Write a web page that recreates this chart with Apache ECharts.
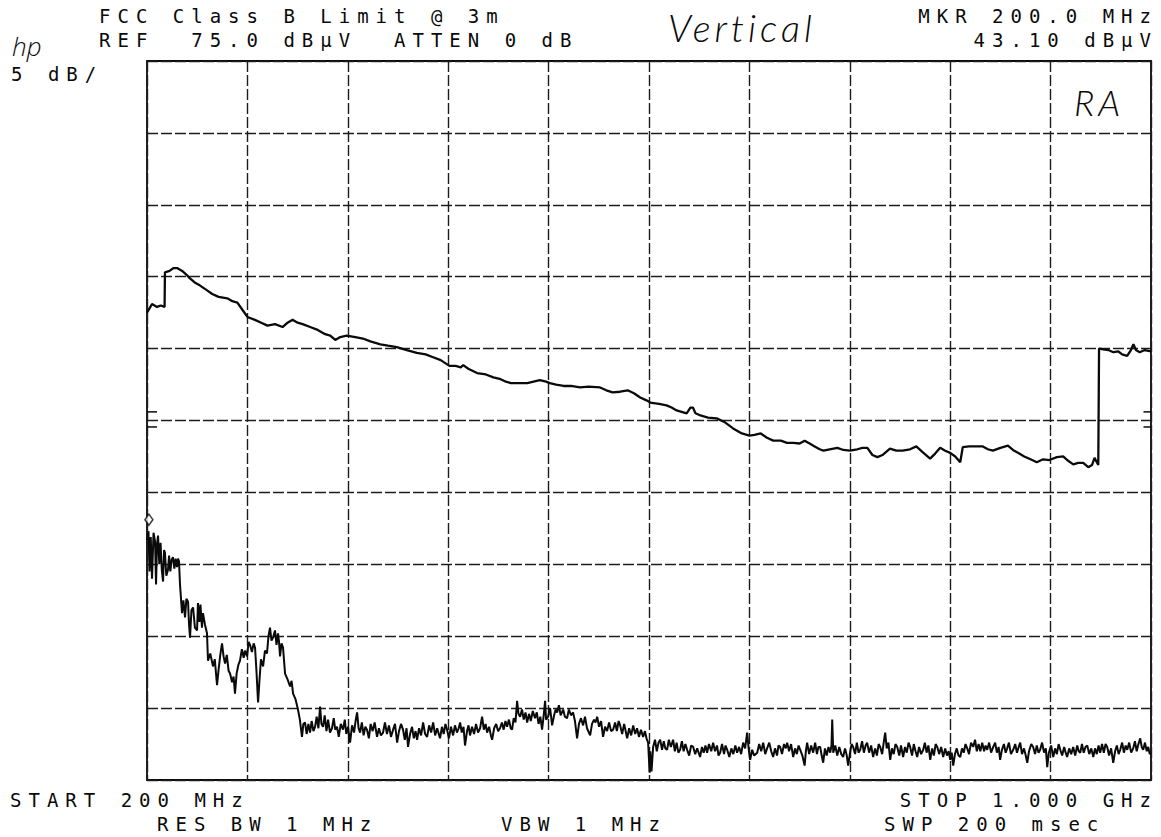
<!DOCTYPE html>
<html>
<head>
<meta charset="utf-8">
<title>FCC Class B Limit @ 3m</title>
<script src="https://cdn.jsdelivr.net/npm/echarts@6.0.0/dist/echarts.min.js"></script>
<style>
  html, body { margin: 0; padding: 0; background: #fff; }
  #chart { width: 1161px; height: 837px; }
  /* plotter lettering is wide spaced */
  #chart text[style*="DejaVu Sans Mono"] { letter-spacing: 7px; white-space: pre; }
  /* pen notes */
  #chart text[style*="Lato"] { letter-spacing: 4px; }
</style>
</head>
<body>
<div id="chart"></div>
<script>
// sweep: 200 MHz .. 1 GHz, 80 MHz/div ; REF 75 dBuV, 5 dB/div
var freqTicks = [200, 280, 360, 440, 520, 600, 680, 760, 840, 920, 1000];
var levelTicks = [25, 30, 35, 40, 45, 50, 55, 60, 65, 70, 75];

// upper trace [MHz, dBuV]
var upperTrace = [
    [200,57.5],[202,57.8],[204,58.1],[206,58.0],[208,57.9],[211,58.0],[214,57.9],[214.3,60.3],
    [218,60.4],[221,60.6],[224,60.6],[228,60.4],[232,60.1],[234,59.9],[238,59.6],[242,59.4],
    [247,59.1],[252,58.8],[257,58.6],[264,58.5],[268,58.3],[272,58.2],[276,57.7],[280,57.2],
    [286,57.0],[291,56.8],[296,56.6],[302,56.7],[308,56.5],[312,56.8],[316,57.0],[320,56.8],
    [324,56.7],[330,56.5],[336,56.3],[342,56.0],[346,55.9],[350,55.6],[354,55.8],[359,55.9],
    [366,55.8],[372,55.7],[378,55.5],[386,55.3],[392,55.2],[399,55.1],[407,54.9],[415,54.7],
    [422,54.6],[428,54.4],[434,54.2],[441,53.8],[446,53.8],[450,53.7],[452,53.85],[456,53.6],
    [463,53.3],[470,53.2],[476,53.0],[481,52.9],[486,52.7],[490,52.6],[496,52.6],[503,52.6],
    [508,52.7],[513,52.8],[518,52.7],[521,52.6],[526,52.5],[532,52.4],[538,52.4],[545,52.3],
    [552,52.35],[561,52.3],[566,52.1],[571,51.95],[577,52.0],[583,52.1],[588,51.9],[593,51.6],
    [598,51.4],[601,51.25],[608,51.15],[614,51.05],[618,50.9],[622,50.7],[626,50.6],[630,50.5],
    [633,50.9],[635,50.9],[637,50.5],[641,50.35],[647,50.2],[654,50.15],[660,49.9],[667,49.45],
    [674,49.1],[680,48.95],[684,49.0],[689,49.1],[694,48.8],[699,48.6],[705,48.6],[710,48.45],
    [715,48.45],[720,48.4],[724,48.6],[728,48.4],[732,48.2],[736,48.0],[739,47.9],[744,48.0],
    [750,48.1],[755,47.95],[760,47.9],[766,48.0],[770,48.1],[774,48.1],[778,47.6],[782,47.45],
    [786,47.6],[792,48.05],[797,47.9],[802,47.9],[808,48.0],[813,48.2],[818,47.8],[824,47.35],
    [828,47.7],[832,48.1],[836,47.9],[840,47.75],[844,47.5],[848,47.1],[850,48.15],[855,48.2],
    [861,48.2],[866,48.2],[870,48.0],[874,47.9],[880,48.1],[886,48.25],[890,47.95],[894,47.75],
    [899,47.5],[904,47.3],[909,47.1],[914,47.3],[919,47.25],[925,47.45],[930,47.5],[934,47.2],
    [938,46.95],[942,47.05],[946,47.05],[950,46.75],[953,46.9],[955,47.4],[958,46.9],[958.6,55.0],
    [962,54.95],[966,54.9],[970,54.75],[974,54.8],[977,54.6],[981,54.5],[984,54.9],[986,55.3],
    [988,54.9],[991,54.75],[995,54.9],[1000,54.8]
];

// lower (noise) trace [MHz, dBuV]
var lowerTrace = [
    // 200-250: strong emissions
    [200,41.7],[201.2,42.3],[202.0,39.5],[203.0,41.9],[204.0,39.0],[205.2,42.2],[206.4,41.6],[207.2,38.6],
    [208.0,41.4],[208.8,42.0],[209.8,40.0],[210.8,41.5],[211.8,39.6],[212.8,38.8],[213.6,41.0],[214.3,40.8],
    [215.4,39.2],[216.7,39.6],[217.6,40.6],[218.6,39.5],[219.6,40.3],[220.7,40.5],[221.8,39.7],[222.8,40.4],
    [223.9,39.8],[224.7,40.4],[225.5,40.2],[226.3,38.6],[227.1,37.6],[227.9,36.6],[229.0,37.5],[230.3,36.3],
    [231.4,37.6],[232.7,37.4],[233.5,35.8],[234.3,34.9],[235.4,36.8],[236.7,37.0],[238.2,35.6],[239.9,35.4],
    [240.6,37.3],[241.8,36.0],[242.6,37.2],[243.8,35.6],[244.6,36.6],[246.2,35.8],[247.8,35.2],[248.6,33.3],
    // 250-325
    [250.4,33.8],[252.6,32.9],[254.0,33.4],[255.8,31.6],[257.2,32.8],[258.4,33.7],[259.8,34.5],[261.0,33.6],
    [262.2,33.1],[263.6,33.7],[265.0,32.6],[266.2,32.4],[267.8,31.8],[269.0,32.2],[270.1,31.0],[271.4,32.4],
    [272.8,33.0],[274.1,33.3],[275.6,34.1],[277.0,33.5],[278.1,34.0],[279.7,33.6],[281.0,34.6],[282.1,34.4],
    [283.6,33.9],[285.0,34.5],[286.1,34.2],[287.2,32.6],[288.5,30.4],[289.6,31.9],[290.8,33.4],[292.5,32.9],
    [294.0,34.0],[295.6,33.8],[296.8,35.0],[298.0,35.6],[299.2,34.7],[300.4,34.9],[302.0,35.4],[303.2,34.4],
    [304.4,35.2],[305.2,34.6],[306.0,33.6],[307.2,34.5],[308.4,34.2],[309.2,33.3],[310.0,32.4],[312.0,32.0],
    [314.0,31.5],[315.2,31.9],[316.4,31.0],[318.4,30.6],[320.3,29.9],[321.8,29.2],[323.5,28.0],
    // 325-600 noise floor
    [324.6,28.9],[325.9,29.0],[327.2,28.2],[328.6,28.9],[329.9,28.3],[331.2,29.1],[332.6,28.4],[333.9,28.7],
    [335.2,29.4],[336.6,28.6],[337.9,30.1],[339.0,28.9],[340.3,28.7],[341.6,29.5],[343.0,28.4],[344.3,29.2],
    [345.8,28.3],[347.4,28.6],[348.8,29.3],[350.0,28.5],[351.4,28.7],[352.8,28.0],[354.4,28.9],[356.2,28.5],
    [357.6,29.2],[358.8,28.2],[360.2,28.7],[361.8,27.6],[363.4,28.8],[365.0,28.3],[366.2,29.1],[367.4,29.7],
    [368.6,28.6],[369.8,28.3],[371.2,29.0],[372.6,28.1],[374.0,28.7],[375.3,28.5],[376.8,27.9],[378.2,28.9],
    [379.8,28.4],[381.4,29.0],[383.3,28.0],[384.8,28.6],[386.4,28.1],[388.1,28.3],[389.6,29.0],[391.2,28.2],
    [392.8,28.8],[394.4,28.0],[396.1,28.5],[397.6,28.9],[399.3,27.6],[400.8,28.4],[402.4,28.9],[404.0,28.5],
    [405.4,27.8],[406.8,28.6],[408.0,27.3],[409.6,28.2],[411.2,28.7],[412.6,27.9],[414.0,28.4],[415.2,27.8],
    [416.8,28.6],[418.4,28.1],[420.0,29.0],[421.6,28.2],[423.2,28.0],[424.8,28.8],[426.4,28.3],[428.0,29.0],
    [429.6,28.1],[431.2,28.6],[433.5,27.9],[435.0,28.7],[436.4,28.2],[437.8,28.9],[439.1,28.5],[440.6,27.9],
    [442.2,28.7],[443.9,28.1],[445.4,28.8],[447.0,28.3],[448.4,28.6],[449.5,29.0],[450.8,28.3],[452.2,28.7],
    [453.4,27.4],[455.0,28.4],[456.2,28.8],[457.4,28.1],[459.0,28.7],[460.6,28.2],[462.2,28.9],[463.8,28.3],
    [465.4,28.6],[467.0,29.4],[468.4,28.5],[469.8,28.9],[471.0,28.3],[472.6,28.7],[474.0,28.1],[475.0,27.8],
    [476.6,28.6],[478.2,28.9],[479.8,28.4],[481.3,28.6],[482.8,29.0],[484.2,28.5],[485.6,29.1],[486.9,28.7],
    [488.4,29.2],[489.8,28.6],[490.9,28.5],[492.2,29.3],[493.6,29.0],[494.9,30.5],[496.0,29.6],[497.3,29.4],
    [498.8,29.9],[500.2,29.2],[501.6,29.7],[502.9,29.0],[504.4,29.6],[505.8,29.1],[507.4,29.8],[509.2,29.3],
    [510.6,29.7],[512.0,28.9],[513.4,29.4],[514.8,28.5],[516.0,29.4],[517.2,30.5],[518.0,29.2],[519.6,29.4],
    [521.2,30.0],[522.8,28.8],[524.4,29.5],[525.6,29.9],[526.8,29.7],[528.2,30.2],[529.6,29.5],[531.6,29.9],
    [533.0,29.4],[534.7,29.3],[536.2,29.9],[537.8,29.5],[539.5,29.7],[541.0,29.1],[542.7,27.9],[544.2,28.9],
    [545.8,29.3],[547.5,28.8],[549.0,29.4],[550.6,28.6],[553.1,28.1],[554.6,28.9],[556.2,29.2],[557.4,29.0],
    [558.7,29.4],[560.2,28.7],[561.8,29.1],[563.4,28.0],[565.0,28.7],[566.6,28.4],[568.2,29.0],[569.8,28.4],
    [571.4,28.5],[573.0,29.0],[574.4,28.4],[575.8,29.1],[577.0,28.8],[578.6,28.2],[580.2,28.9],[582.6,27.9],
    [584.2,28.6],[585.8,28.1],[587.4,28.8],[589.0,28.2],[590.5,28.6],[592.0,28.0],[593.6,28.5],[595.3,28.0],
    [596.8,28.4],[598.0,27.9],[599.3,27.6],[600.5,25.5],[601.0,27.0],[602.0,25.6],[603.3,27.3],
    // 600-1000 noise floor, one step lower
    [604.8,27.8],[606.2,27.0],[607.6,27.6],[608.9,27.8],[610.4,27.1],[611.8,27.7],[613.0,27.2],[614.4,27.1],
    [615.8,27.8],[617.4,27.3],[619.2,27.8],[620.6,27.0],[622.0,27.6],[623.4,26.9],[624.8,27.1],[626.2,27.7],
    [627.6,27.0],[629.0,27.5],[630.4,27.1],[632.0,26.7],[633.6,27.4],[635.2,27.3],[636.8,26.8],[638.4,27.2],
    [640.7,26.6],[642.2,27.3],[643.6,26.9],[645.0,27.4],[646.3,26.9],[647.8,27.5],[649.6,27.0],[651.1,27.6],
    [652.6,27.0],[654.2,27.4],[655.4,26.7],[656.7,26.9],[658.2,27.5],[659.8,26.8],[661.0,27.4],[662.3,27.1],
    [664.0,26.6],[665.6,27.2],[667.2,26.8],[668.8,27.4],[670.2,26.9],[671.8,27.3],[673.4,26.8],[675.0,27.6],
    [676.6,27.2],[678.2,28.3],[679.4,27.2],[680.6,26.4],[682.2,27.1],[683.8,26.7],[686.2,26.9],[687.8,27.5],
    [689.4,27.0],[691.0,27.6],[692.6,26.8],[694.1,27.2],[695.8,27.6],[697.4,27.0],[698.9,26.6],[700.4,27.2],
    [702.0,26.7],[703.2,27.4],[704.5,27.3],[706.0,26.8],[707.6,27.5],[709.0,27.2],[710.1,27.6],[711.6,27.0],
    [713.2,27.5],[714.9,26.6],[716.4,27.2],[717.8,26.8],[719.2,27.4],[720.5,27.1],[722.2,26.7],[724.0,26.0],
    [725.0,27.0],[726.0,27.6],[727.6,26.8],[729.2,27.4],[730.8,26.9],[732.4,27.6],[733.8,26.8],[735.0,27.3],
    [736.4,27.3],[737.6,26.7],[738.8,26.2],[740.2,27.2],[741.6,26.7],[743.0,27.3],[744.4,26.9],[745.4,27.4],
    [746.0,29.2],[746.8,26.9],[748.4,27.4],[750.0,26.7],[751.6,27.3],[753.2,26.8],[754.7,26.6],[756.2,27.2],
    [757.6,26.7],[758.7,26.0],[760.2,26.9],[761.4,27.5],[762.7,27.3],[764.2,26.8],[765.6,27.6],[767.0,26.9],
    [768.3,27.1],[769.8,27.7],[771.2,26.9],[772.6,27.4],[773.8,27.6],[775.4,26.9],[777.0,27.4],[778.6,26.6],
    [780.2,27.2],[781.6,26.7],[783.0,27.5],[784.2,27.3],[785.8,26.8],[787.0,27.6],[788.2,28.3],[789.4,27.2],
    [790.8,27.6],[792.2,26.4],[793.6,27.2],[795.0,26.8],[796.4,27.5],[797.8,27.3],[799.4,26.7],[800.8,27.4],
    [802.5,26.6],[804.0,27.3],[805.4,26.9],[806.8,27.6],[808.1,27.3],[809.6,26.7],[811.0,27.5],[812.4,27.0],
    [813.7,26.6],[815.2,27.3],[816.8,26.8],[818.5,27.1],[819.8,27.6],[821.2,26.9],[822.6,27.4],[824.1,26.4],
    [825.6,27.2],[827.0,26.7],[828.4,27.5],[829.7,27.3],[831.2,26.8],[832.8,27.3],[834.4,26.6],[836.0,27.2],
    [837.4,26.7],[838.8,27.0],[840.0,26.4],[841.2,26.9],[842.4,26.0],[843.8,26.8],[845.2,27.2],[846.6,26.7],
    [848.0,26.6],[849.4,27.2],[850.8,26.9],[852.2,27.5],[853.6,27.2],[855.0,26.8],[856.6,27.6],[858.3,27.3],
    [859.8,27.8],[861.2,27.0],[862.6,27.5],[864.0,27.0],[865.5,27.6],[867.0,27.0],[868.2,27.4],[869.5,27.1],
    [871.0,27.6],[872.6,26.9],[874.3,27.3],[875.8,27.6],[877.2,26.9],[878.6,27.3],[879.8,26.4],[881.2,27.1],
    [882.8,27.5],[884.2,26.9],[885.4,27.2],[886.8,27.6],[888.4,26.8],[890.2,27.1],[891.8,27.5],[893.2,26.9],
    [894.6,27.3],[895.8,27.6],[897.2,26.8],[898.8,27.2],[900.2,26.7],[901.4,26.2],[902.8,27.0],[904.6,27.5],
    [906.1,27.3],[907.6,26.8],[909.0,27.4],[910.4,26.9],[911.7,27.1],[913.2,27.6],[914.8,26.9],[916.2,27.2],
    [917.3,25.9],[918.6,26.9],[920.4,27.4],[922.1,26.6],[923.6,27.2],[925.0,26.8],[926.4,27.5],[927.7,27.1],
    [929.2,26.7],[930.8,27.3],[932.0,26.9],[933.2,26.6],[934.8,27.2],[936.4,26.8],[938.0,27.3],[939.6,26.7],
    [941.2,27.4],[942.4,27.0],[943.6,26.9],[945.0,27.5],[946.4,26.9],[947.8,27.3],[949.2,27.4],[950.8,26.8],
    [952.4,27.2],[954.0,26.6],[955.4,27.2],[956.8,26.8],[958.2,27.4],[959.5,26.9],[961.0,27.5],[962.4,26.9],
    [963.8,27.5],[965.1,27.3],[966.6,26.7],[968.2,27.2],[969.9,26.2],[971.4,27.0],[972.8,27.4],[974.2,26.8],
    [975.5,27.1],[977.0,27.6],[978.4,26.9],[979.8,27.4],[981.1,27.1],[982.6,27.6],[984.2,26.9],[985.8,27.2],
    [987.2,27.7],[988.6,27.0],[990.0,27.5],[991.4,27.9],[992.6,27.3],[993.8,27.1],[995.2,27.6],[996.6,27.0],
    [997.8,27.3],[999.0,26.8],[1000,26.9]
];

// marker MKR 200.0 MHz / 43.10 dBuV
var markerPoint = [[201.5, 43.1]];

// little display-line ticks on both edges
var edgeTicks = [
    [[200, 50.6], [208, 50.6]],
    [[200, 49.55], [208, 49.55]],
    [[994, 50.6], [1000, 50.6]],
    [[994, 49.55], [1000, 49.55]]
];

var plotFont = '19px "DejaVu Sans Mono", monospace';
var penFont = 'italic 300 38px Lato, sans-serif';
var ink = '#0a0a0a';

function txt(s, x, y, align, font) {
    return {
        type: 'text',
        x: x,
        y: y,
        style: {
            text: s,
            font: font || plotFont,
            fill: ink,
            align: align || 'left',
            verticalAlign: 'middle'
        }
    };
}

var chart = echarts.init(document.getElementById('chart'), null, { renderer: 'svg' });

var series = [
    {
        type: 'line',
        data: upperTrace,
        showSymbol: false,
        lineStyle: { color: ink, width: 2.3 },
        z: 5
    },
    {
        type: 'line',
        data: lowerTrace,
        showSymbol: false,
        lineStyle: { color: ink, width: 2 },
        z: 5
    },
    {
        type: 'scatter',
        data: markerPoint,
        symbol: 'diamond',
        symbolSize: [8, 11],
        itemStyle: { color: '#fff', borderColor: ink, borderWidth: 1.5 },
        z: 6
    }
];
edgeTicks.forEach(function (seg) {
    series.push({
        type: 'line',
        data: seg,
        showSymbol: false,
        lineStyle: { color: ink, width: 1.5 },
        z: 4
    });
});

var option = {
    backgroundColor: '#fff',
    animation: false,
    grid: {
        left: 147,
        right: 10,
        top: 61,
        bottom: 57,
        show: true,
        borderColor: ink,
        borderWidth: 1.8
    },
    xAxis: {
        type: 'value',
        min: freqTicks[0],
        max: freqTicks[freqTicks.length - 1],
        interval: 80,
        axisLine: { show: false },
        axisTick: { show: false },
        axisLabel: { show: false },
        splitLine: { show: true, lineStyle: { color: '#1c1c1c', width: 1.4, type: [11, 3] } }
    },
    yAxis: {
        type: 'value',
        min: levelTicks[0],
        max: levelTicks[levelTicks.length - 1],
        interval: 5,
        axisLine: { show: false },
        axisTick: { show: false },
        axisLabel: { show: false },
        splitLine: { show: true, lineStyle: { color: '#1c1c1c', width: 1.4, type: [11, 3] } }
    },
    graphic: [
        txt('FCC Class B Limit @ 3m', 99, 16),
        txt('REF  75.0 dBµV  ATTEN 0 dB', 99, 40),
        txt('5 dB/', 11, 74),
        txt('MKR 200.0 MHz', 1158, 16, 'right'),
        txt('43.10 dBµV', 1158, 40, 'right'),
        txt('START 200 MHz', 10, 800),
        txt('STOP 1.000 GHz', 1158, 800, 'right'),
        txt('RES BW 1 MHz', 157, 824),
        txt('VBW 1 MHz', 501, 824),
        txt('SWP 200 msec', 884, 824),
        txt('hp', 12, 46, 'left', 'italic 300 26px "Open Sans", sans-serif'),
        txt('Vertical', 668, 27, 'left', penFont),
        txt('RA', 1074, 102, 'left', 'italic 300 36px Lato, sans-serif')
    ],
    series: series
};

chart.setOption(option);
</script>
</body>
</html>
